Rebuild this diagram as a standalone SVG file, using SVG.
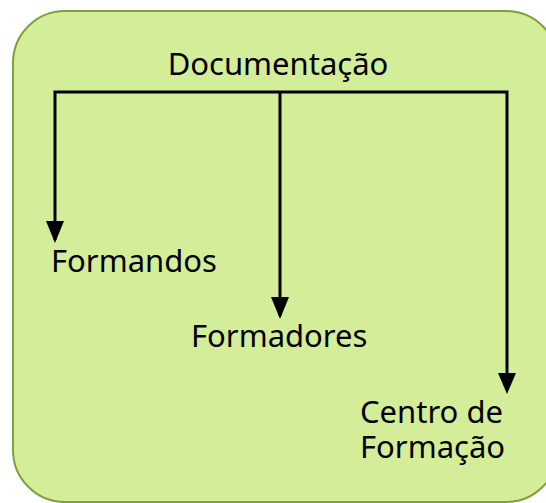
<svg xmlns="http://www.w3.org/2000/svg" width="546" height="503" viewBox="0 0 546 503">
<style>
text{font-family:"Noto Sans","Open Sans","DejaVu Sans",sans-serif;font-size:31px;fill:#000}
.c{fill:none;stroke:#000;stroke-width:3}
</style>
<g id="container">
<rect x="13" y="11" width="545" height="491" rx="52" ry="52" fill="#d4ed99" stroke="#7ea03a" stroke-width="2"/>
</g>
<g id="connectors">
<polyline class="c" points="55,240 55,92 507,92 507,390"/>
<line class="c" x1="280" y1="92" x2="280" y2="316"/>
<path d="M46,221 L64,221 L55,243 Z"/>
<path d="M271,297 L289,297 L280,319 Z"/>
<path d="M498,373 L516,373 L507,394 Z"/>
</g>
<g id="doc"><text x="278" y="75" text-anchor="middle">Documentação</text></g>
<g id="formandos"><text x="51" y="272">Formandos</text></g>
<g id="formadores"><text x="191" y="347">Formadores</text></g>
<g id="centro"><text x="360" y="423">Centro de</text><text x="360" y="458">Formação</text></g>
</svg>
